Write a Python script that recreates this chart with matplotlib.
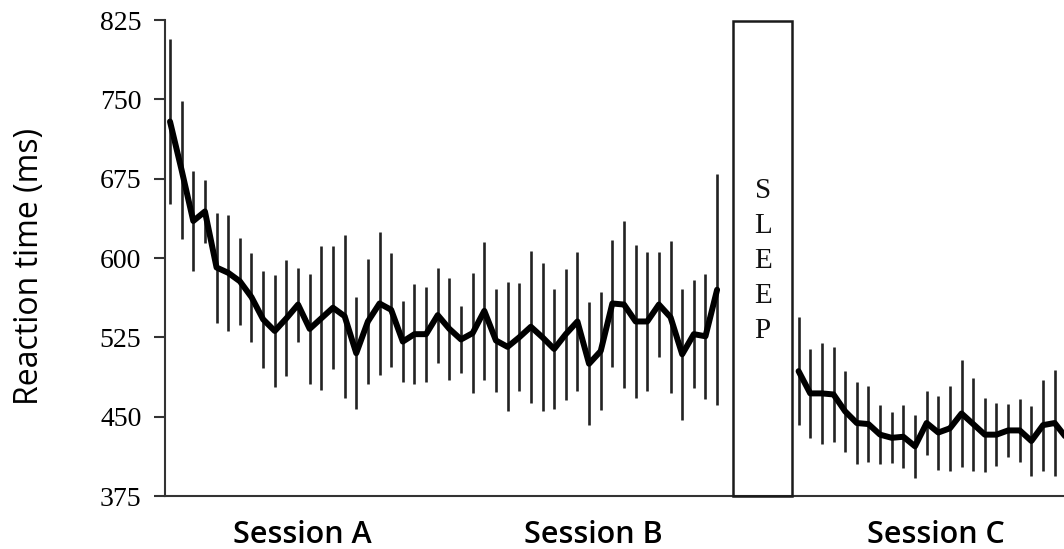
import numpy as np
import matplotlib
matplotlib.use("Agg")
import matplotlib.pyplot as plt
from matplotlib.patches import Rectangle
from matplotlib.transforms import blended_transform_factory

# ---------------- data ----------------
# Sessions A and B (consecutive blocks, 24 each)
rt_ab = [729, 683, 635, 644, 591, 586, 578, 563, 542, 531, 543, 556,
         533, 543, 553, 545, 510, 540, 557, 551, 521, 528, 528, 546,
         533, 523, 529, 550, 522, 516, 525, 535, 525, 514, 528, 540,
         500, 512, 557, 556, 540, 540, 556, 544, 509, 528, 526, 570]
err_ab = [78, 65, 47, 30, 52, 55, 41, 42, 46, 53, 55, 35,
          52, 68, 58, 77, 53, 59, 68, 54, 38, 47, 45, 45,
          48, 32, 57, 65, 49, 61, 51, 72, 70, 57, 62, 66,
          58, 56, 60, 79, 72, 66, 50, 72, 62, 51, 59, 109]
# Session C (after sleep)
rt_c = [493, 472, 472, 471, 455, 444, 443, 433, 430, 431, 422, 444,
        435, 439, 453, 443, 433, 433, 437, 437, 427, 442, 444, 430]
err_c = [51, 42, 48, 45, 38, 39, 36, 28, 24, 30, 30, 30,
         35, 40, 51, 44, 35, 30, 25, 30, 33, 43, 50, 40]

yticks = [375, 450, 525, 600, 675, 750, 825]
session_labels = ["Session A", "Session B", "Session C"]
sleep_label = "SLEEP"

# ---------------- figure ----------------
fig = plt.figure(figsize=(10.64, 5.49), dpi=100)
ax = fig.add_axes([165 / 1064, 1 - 496 / 549, 1 - 165 / 1064, (496 - 20) / 549])

x_ab = np.arange(len(rt_ab))
x_c = 54 + np.arange(len(rt_c))

err_kw = dict(fmt="none", ecolor="#222222", elinewidth=1.9, capsize=0, zorder=2)
ax.errorbar(x_ab, rt_ab, yerr=err_ab, **err_kw)
ax.errorbar(x_c, rt_c, yerr=err_c, **err_kw)
line_kw = dict(color="black", lw=4.3, solid_joinstyle="round", solid_capstyle="round", zorder=3)
ax.plot(x_ab, rt_ab, **line_kw)
ax.plot(x_c, rt_c, **line_kw)

# Sleep box
ax.add_patch(Rectangle((48.37, 375), 53.44 - 48.37, 824 - 375, fill=False,
                       edgecolor="#1a1a1a", lw=1.8, zorder=4, clip_on=False))
ax.text((48.37 + 53.44) / 2, 597, "\n".join(sleep_label), ha="center", va="center",
        family="Liberation Serif", fontsize=21, linespacing=1.45, color="#111111")

ax.set_xlim(-0.43, 76.8)
ax.set_ylim(375, 825)
ax.set_yticks(yticks)
ax.set_yticklabels([str(t) for t in yticks], family="Liberation Serif", fontsize=20)
ax.set_xticks([])
for s in ("top", "right"):
    ax.spines[s].set_visible(False)
for s in ("left", "bottom"):
    ax.spines[s].set_linewidth(1.5)
    ax.spines[s].set_color("#333333")
ax.tick_params(axis="y", length=8, width=1.5, color="#333333", pad=9)

fig.text(30 / 1064, 1 - 266 / 549, "Reaction time (ms)", rotation=90,
         ha="center", va="center", family="Open Sans", fontsize=23)

trans = blended_transform_factory(ax.transData, fig.transFigure)
for xc, lab in zip([11.4, 36.4, 65.8], session_labels):
    ax.text(xc, 1 - 543 / 549, lab, transform=trans, ha="center", va="baseline",
            family="Open Sans", fontweight="semibold", fontsize=22)

fig.savefig("out.png", dpi=100)
